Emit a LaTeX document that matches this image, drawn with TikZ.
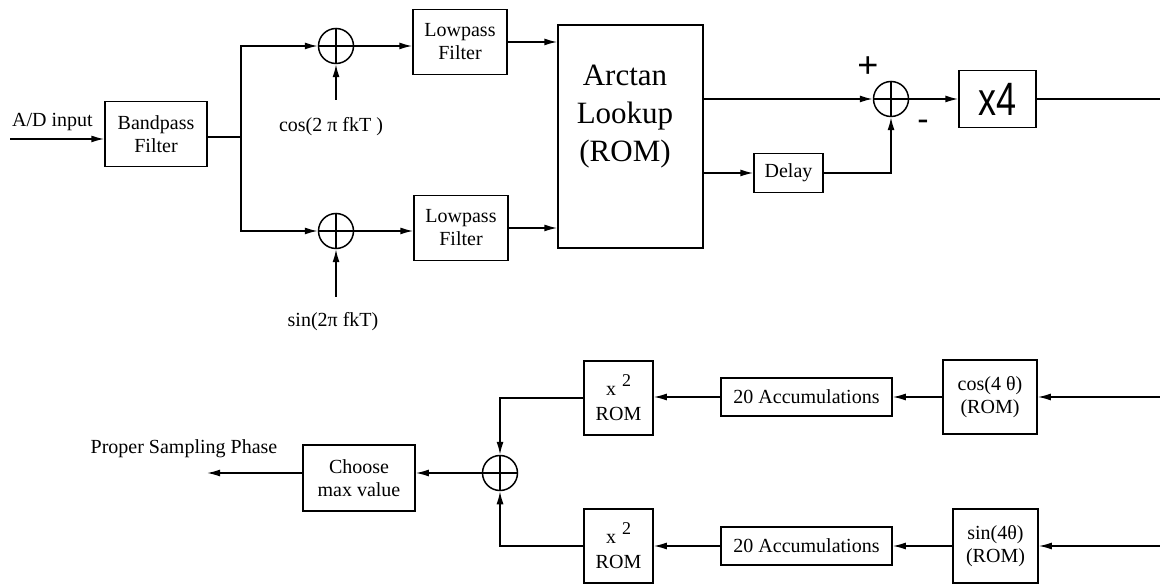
\documentclass[tikz,border=0pt]{standalone}
\usepackage{fontspec}
\setmainfont{Liberation Serif}
\newfontfamily\sansx{Liberation Sans}
\usetikzlibrary{arrows.meta}

\begin{document}
\begin{tikzpicture}[x=1pt,y=-1pt,
  wire/.style={line width=1.5pt},
  arr/.style={wire,-{Latex[length=13pt,width=7pt]}},
  blk/.style={draw,line width=1.5pt,inner sep=0pt,align=center,
              font=\fontsize{20}{23}\selectfont},
  lbl/.style={inner sep=0pt,font=\fontsize{20}{23}\selectfont},
  sumnode/.style={draw,circle,line width=1.5pt,minimum size=35pt,inner sep=0pt}]

\useasboundingbox (0,0) rectangle (1160,585);

% ---------------- upper chain: phase detector ----------------
\node[blk,minimum width=102pt,minimum height=65pt] (bp) at (156,134) {Bandpass\\Filter};
\coordinate (in) at (10,139);
\node[lbl,anchor=west] (adlbl) at (12,122) {A/D input};
\draw[arr] (in) -- (in -| bp.west);

\coordinate (br) at (241,137);
\draw[wire] (bp.east |- br) -- (br);

\node[sumnode] (s1) at (336,46) {};
\node[sumnode] (s2) at (336,231) {};
\draw[arr] (br) |- (s1.west);
\draw[arr] (br) |- (s2.west);

\node[blk,minimum width=94pt,minimum height=65pt] (lp1) at (460,42) {Lowpass\\Filter};
\node[blk,minimum width=94pt,minimum height=65pt] (lp2) at (461,228) {Lowpass\\Filter};
\draw[arr] (s1.east) -- (s1.east -| lp1.west);
\draw[arr] (s2.east) -- (s2.east -| lp2.west);

\coordinate (cin) at (336,100);
\coordinate (sinp) at (336,297);
\draw[arr] (cin) -- (s1.south);
\draw[arr] (sinp) -- (s2.south);
\node[lbl] (coslbl) at (331,127) {cos(2 π fkT )};
\node[lbl] (sinlbl) at (333,322) {sin(2π fkT)};

\node[blk,minimum width=145pt,minimum height=223pt] (atan) at (630.5,136.5) {};
\node[inner sep=0pt,align=center,font=\fontsize{31}{38}\selectfont] (atantxt) at (625,117) {Arctan\\Lookup\\(ROM)};
\draw[arr] (lp1.east) -- (lp1.east -| atan.west);
\draw[arr] (lp2.east) -- (lp2.east -| atan.west);

\node[sumnode] (s3) at (891,99) {};
\node[blk,minimum width=69pt,minimum height=39pt] (dl) at (788.5,173) {Delay};
\draw[arr] (atan.east |- s3) -- (s3.west);
\draw[arr] (atan.east |- dl) -- (dl.west);
\draw[arr] (dl.east) -| (s3.south);
\node[inner sep=0pt,font=\sansx\fontsize{36}{38}\selectfont] (plus) at (868,67) {+};
\node[inner sep=0pt,font=\sansx\fontsize{34}{36}\selectfont] (minus) at (923,125) {-};

\node[blk,minimum width=77pt,minimum height=57pt,font=\sansx\fontsize{36}{38}\selectfont] (x4) at (997.5,99) {\scalebox{1}[1.3]{x4}};
\draw[arr] (s3.east) -- (x4.west);
\coordinate (o1) at (1160,99);
\draw[wire] (x4.east) -- (o1);

% ---------------- lower chain: phase selection ----------------
\node[blk,minimum width=94pt,minimum height=74pt] (c4) at (990,397) {cos(4 θ)\\(ROM)};
\node[blk,minimum width=85pt,minimum height=74pt] (s4r) at (995.5,546) {sin(4θ)\\(ROM)};
\coordinate (i2) at (1160,397);
\coordinate (i3) at (1160,546);
\draw[arr] (i2) -- (c4.east);
\draw[arr] (i3) -- (s4r.east);

\node[blk,minimum width=171pt,minimum height=38pt] (acc1) at (806.5,397) {20 Accumulations};
\node[blk,minimum width=171pt,minimum height=38pt] (acc2) at (806.5,546) {20 Accumulations};
\draw[arr] (c4.west) -- (acc1.east);
\draw[arr] (s4r.west) -- (acc2.east);

\node[blk,minimum width=69pt,minimum height=74pt] (sq1) at (618.5,398)
  {x\hspace{6pt}\raisebox{9pt}{\fontsize{18}{20}\selectfont 2}\\[2pt]ROM};
\node[blk,minimum width=69pt,minimum height=74pt] (sq2) at (618.5,546)
  {x\hspace{6pt}\raisebox{9pt}{\fontsize{18}{20}\selectfont 2}\\[2pt]ROM};
\draw[arr] (acc1.west) -- (acc1.west -| sq1.east);
\draw[arr] (acc2.west) -- (acc2.west -| sq2.east);

\node[sumnode] (s4) at (500,473) {};
\draw[arr] (sq1.west) -| (s4.north);
\draw[arr] (sq2.west) -| (s4.south);

\node[blk,minimum width=112pt,minimum height=66pt] (ch) at (359,478) {Choose\\max value};
\draw[arr] (s4.west) -- (s4.west -| ch.east);
\coordinate (out) at (207,473);
\draw[arr] (ch.west |- s4) -- (out);
\node[lbl] (outlbl) at (184,449) {Proper Sampling Phase};

% crosses inside the summing junctions
\foreach \s in {s1,s2,s3,s4}
  \draw[wire] (\s.north) -- (\s.south) (\s.west) -- (\s.east);
\end{tikzpicture}
\end{document}
